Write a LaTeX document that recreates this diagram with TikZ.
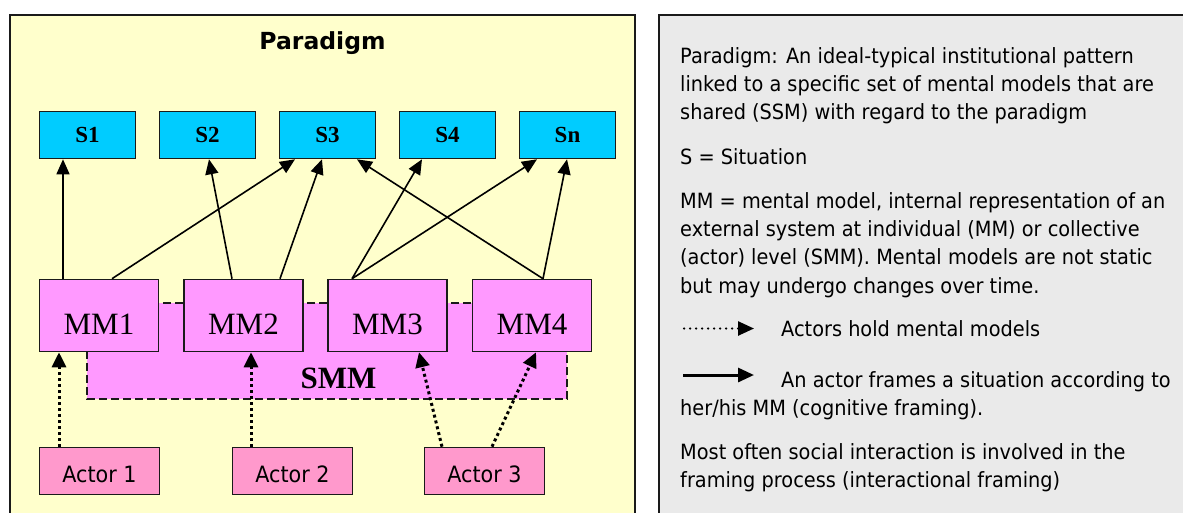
\documentclass[tikz,border=0pt]{standalone}
\usepackage{fontspec}
\setmainfont{Liberation Serif}
\newfontfamily\tah{DejaVu Sans}[FakeStretch=0.92]
\newfontfamily\tahtitle{DejaVu Sans}
\usetikzlibrary{arrows.meta}
\definecolor{paneyellow}{HTML}{FFFFCC}
\definecolor{panegray}{HTML}{EAEAEA}
\definecolor{sitcyan}{HTML}{00CCFF}
\definecolor{mmpink}{HTML}{FF99FF}
\definecolor{actpink}{HTML}{FF99CC}
\definecolor{edge}{HTML}{1A1A1A}
\begin{document}
\begin{tikzpicture}[x=1pt,y=-1pt,
  panel/.style={draw=edge, line width=2pt},
  sbox/.style={draw=edge, line width=1.6pt, fill=sitcyan, minimum width=96pt, minimum height=47pt, inner sep=0pt, font=\bfseries\fontsize{23}{23}\selectfont},
  mmbox/.style={draw=edge, line width=1.6pt, fill=mmpink, minimum width=119pt, minimum height=72pt, inner sep=0pt},
  mmtext/.style={inner sep=0pt, font=\fontsize{31}{31}\selectfont},
  actbox/.style={draw=edge, line width=1.6pt, fill=actpink, minimum width=120pt, minimum height=47pt, inner sep=0pt},
  acttext/.style={inner sep=0pt, font=\tah\fontsize{22.5}{22.5}\selectfont},
  smmbox/.style={draw=edge, line width=1.6pt, fill=mmpink, dash pattern=on 8pt off 4pt},
  framearrow/.style={draw=black, line width=1.6pt, -{Triangle[length=15pt,width=13pt]}},
  holdarrow/.style={draw=black, line width=3pt, dash pattern=on 3pt off 3pt, -{Triangle[length=15pt,width=14pt]}},
  legdot/.style={draw=black, line width=2.5pt, line cap=round, dash pattern=on 0pt off 6pt, -{Triangle[length=16pt,width=14pt]}},
  legline/.style={draw=black, line width=3pt, -{Triangle[length=16pt,width=14pt]}},
  rtext/.style={anchor=base west, inner sep=0pt, font=\tah\fontsize{21}{21}\selectfont}
]
\useasboundingbox (0,0) rectangle (1183,512);
\fill[white] (0,0) rectangle (1183,512);
\clip (0,0) rectangle (1183,512);

% panels
\draw[panel, fill=paneyellow] (10,15) rectangle (635,540);
\draw[panel, fill=panegray] (659,15) rectangle (1200,540);

% title
\node[anchor=base, inner sep=0pt, font=\tahtitle\bfseries\fontsize{23.5}{23.5}\selectfont] (title) at (322.5,49) {Paradigm};

% situations
\node[sbox] (s1) at (87.5,135) {S1};
\node[sbox] (s2) at (207.5,135) {S2};
\node[sbox] (s3) at (327.5,135) {S3};
\node[sbox] (s4) at (447.5,135) {S4};
\node[sbox] (sn) at (567.5,135) {Sn};

% shared mental model
\draw[smmbox] (87,303) rectangle (567,399);
\node[inner sep=0pt, font=\bfseries\fontsize{31}{31}\selectfont] (smm) at (338.5,378.5) {SMM};

% mental models
\node[mmbox] (mm1) at (99,315.5) {};
\node[mmbox] (mm2) at (243.5,315.5) {};
\node[mmbox] (mm3) at (387.5,315.5) {};
\node[mmbox] (mm4) at (532,315.5) {};
\node[mmtext] (mm1t) at ([yshift=-8.5pt]mm1.center) {MM1};
\node[mmtext] (mm2t) at ([yshift=-8.5pt]mm2.center) {MM2};
\node[mmtext] (mm3t) at ([yshift=-8.5pt]mm3.center) {MM3};
\node[mmtext] (mm4t) at ([yshift=-8.5pt]mm4.center) {MM4};

% actors
\node[actbox] (a1) at (99.5,471) {};
\node[actbox] (a2) at (292.5,471) {};
\node[actbox] (a3) at (484.5,471) {};
\node[acttext] (a1t) at ([yshift=-3pt]a1.center) {Actor 1};
\node[acttext] (a2t) at ([yshift=-3pt]a2.center) {Actor 2};
\node[acttext] (a3t) at ([yshift=-3pt]a3.center) {Actor 3};

% framing arrows
\draw[framearrow] ([xshift=-36pt]mm1.north) -- ([xshift=-24.5pt]s1.south);
\draw[framearrow] ([xshift=13pt]mm1.north) -- ([xshift=-32.5pt]s3.south);
\draw[framearrow] ([xshift=-11.5pt]mm2.north) -- ([xshift=1.5pt]s2.south);
\draw[framearrow] ([xshift=36.5pt]mm2.north) -- ([xshift=-5.5pt]s3.south);
\draw[framearrow] ([xshift=-35.5pt]mm3.north) -- ([xshift=-25.5pt]s4.south);
\draw[framearrow] ([xshift=-35.5pt]mm3.north) -- ([xshift=-30.5pt]sn.south);
\draw[framearrow] ([xshift=11pt]mm4.north) -- ([xshift=29.5pt]s3.south);
\draw[framearrow] ([xshift=11pt]mm4.north) -- ([xshift=-0.5pt]sn.south);

% holding arrows
\draw[holdarrow] ([xshift=-40.5pt]a1.north) -- ([xshift=-40pt]mm1.south);
\draw[holdarrow] ([xshift=-41.5pt]a2.north) -- ([xshift=7.5pt]mm2.south);
\draw[holdarrow] ([xshift=-42.5pt]a3.north) -- ([xshift=31.5pt]mm3.south);
\draw[holdarrow] ([xshift=7.5pt]a3.north) -- ([xshift=4pt]mm4.south);

% right panel text
\node[rtext] (t1) at (680,63) {Paradigm: An ideal-typical institutional pattern};
\node[rtext] (t2) at (680,91.5) {linked to a specific set of mental models that are};
\node[rtext] (t3) at (680,119) {shared (SSM) with regard to the paradigm};
\node[rtext] (t4) at (680,164) {S = Situation};
\node[rtext] (t5) at (680,208.5) {MM = mental model, internal representation of an};
\node[rtext] (t6) at (680,236.5) {external system at individual (MM) or collective};
\node[rtext] (t7) at (680,264.5) {(actor) level (SMM). Mental models are not static};
\node[rtext] (t8) at (680,293) {but may undergo changes over time.};
\node[rtext] (t9) at (781,336.5) {Actors hold mental models};
\node[rtext] (t10) at (781,387) {An actor frames a situation according to};
\node[rtext] (t11) at (680,415) {her/his MM (cognitive framing).};
\node[rtext] (t12) at (680,459) {Most often social interaction is involved in the};
\node[rtext] (t13) at (680,487) {framing process (interactional framing)};

% legend arrows
\coordinate (ld1) at (684,328.5);
\coordinate (ld2) at (754,328.5);
\coordinate (ls1) at (683,375);
\coordinate (ls2) at (754,375);
\draw[legdot] (ld1) -- (ld2);
\draw[legline] (ls1) -- (ls2);
\end{tikzpicture}
\end{document}
